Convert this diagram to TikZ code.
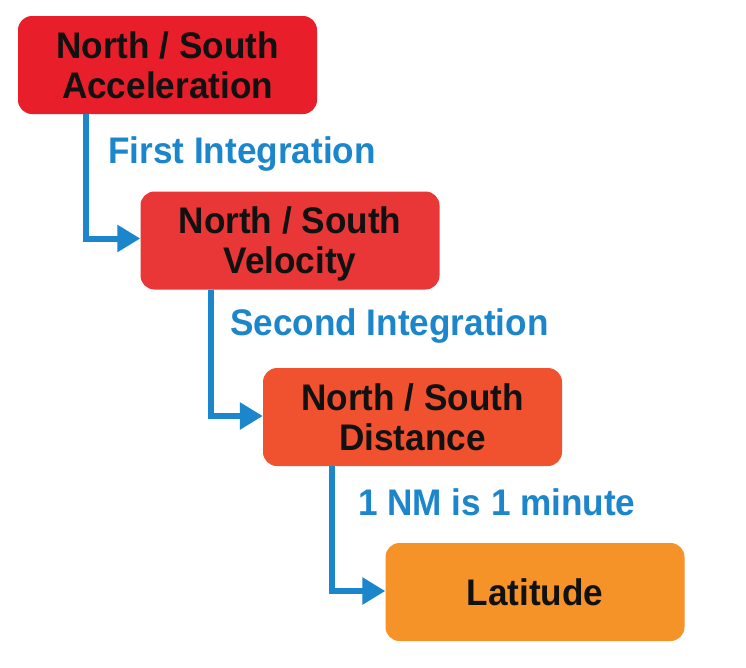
\documentclass[tikz,border=0pt]{standalone}
\usepackage{fontspec}
\usetikzlibrary{arrows.meta}
\newfontfamily\diagfont{Liberation Sans}[FakeStretch=0.95]
\definecolor{boxA}{RGB}{232,30,42}
\definecolor{boxB}{RGB}{233,54,54}
\definecolor{boxC}{RGB}{240,82,48}
\definecolor{boxD}{RGB}{245,146,40}
\definecolor{flowblue}{RGB}{27,134,204}
\definecolor{txt}{RGB}{17,17,17}
\tikzset{
  stagebox/.style={rectangle, rounded corners=14pt, minimum width=299pt, minimum height=98pt,
    inner sep=0pt, align=center, text=txt, text depth=0pt,
    font=\diagfont\bfseries\fontsize{37}{40}\selectfont},
  flowline/.style={draw=flowblue, line width=6pt, -{Triangle[length=23pt,width=26pt]}},
  flowlabel/.style={inner sep=0pt, anchor=base west, text=flowblue,
    font=\diagfont\bfseries\fontsize{37}{40}\selectfont}
}
\begin{document}
\begin{tikzpicture}[x=1pt,y=-1pt]
\useasboundingbox (0,0) rectangle (746,667);
\fill[white] (0,0) rectangle (746,667);
\node[stagebox, fill=boxA] (b1) at (167.5,65) {North / South\\Acceleration};
\node[stagebox, fill=boxB] (b2) at (290,240.5) {North / South\\Velocity};
\node[stagebox, fill=boxC] (b3) at (412.5,417) {North / South\\Distance};
\node[stagebox, fill=boxD] (b4) at (535,592) {Latitude};
\draw[flowline] ([xshift=68pt]b1.south west) |- ([yshift=2pt]b2.west);
\draw[flowline] ([xshift=71pt]b2.south west) |- ([yshift=1pt]b3.west);
\draw[flowline] ([xshift=69pt]b3.south west) |- ([yshift=1pt]b4.west);
\node[flowlabel] (l1) at (108,163) {First Integration};
\node[flowlabel] (l2) at (230,335) {Second Integration};
\node[flowlabel] (l3) at (358,515) {1 NM is 1 minute};
\end{tikzpicture}
\end{document}
